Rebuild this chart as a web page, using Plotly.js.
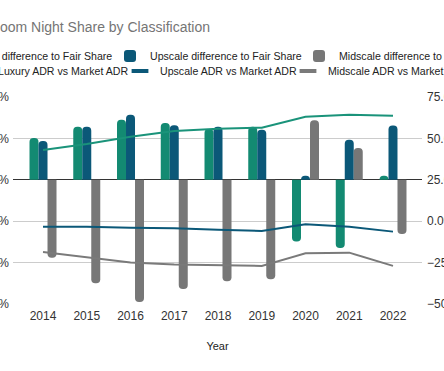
<!DOCTYPE html>
<html>
<head>
<meta charset="utf-8">
<script src="https://cdn.plot.ly/plotly-3.0.1.min.js"></script>
<style>
  html, body { margin: 0; padding: 0; width: 444px; height: 371px; overflow: hidden; background: #fff; }
  #chart { position: absolute; left: -100px; top: 0; width: 644px; height: 371px; }
</style>
</head>
<body>
<div id="chart"></div>
<script>
const years = ['2014', '2015', '2016', '2017', '2018', '2019', '2020', '2021', '2022'];
const luxuryShare   = [10.1, 12.8, 14.5, 13.7, 12.3, 12.8, -14.9, -16.5, 1.0];
const upscaleShare  = [9.4, 12.8, 15.7, 13.2, 12.8, 12.1, 1.0, 9.7, 13.1];
const midscaleShare = [-18.8, -25.0, -29.5, -26.4, -24.5, -24.0, 14.4, 7.7, -13.1];
const luxuryADR   = [43.0, 46.6, 51.0, 54.5, 55.9, 56.5, 63.1, 64.3, 63.7];
const upscaleADR  = [-3.4, -3.4, -4.0, -4.2, -5.2, -5.9, -1.8, -3.4, -6.3];
const midscaleADR = [-18.6, -22.0, -25.0, -26.2, -26.8, -27.0, -19.4, -19.0, -27.0];
const barNames  = ['Luxury difference to Fair Share', 'Upscale difference to Fair Share', 'Midscale difference to Fair Share'];
const lineNames = ['Luxury ADR vs Market ADR', 'Upscale ADR vs Market ADR', 'Midscale ADR vs Market ADR'];

const cLux = '#138a72', cUp = '#0b5878', cMid = '#777777';
const cLuxLine = '#1a937a', cMidLine = '#7a7a7a';
const FONT = 'Liberation Sans, Arial, sans-serif';
const W = 644, H = 371;

const barSeries = [luxuryShare, upscaleShare, midscaleShare];
const barColors = [cLux, cUp, cMid];
const lineSeries = [luxuryADR, upscaleADR, midscaleADR];
const lineColors = [cLuxLine, cUp, cMidLine];

const traces = [];
barSeries.forEach((vals, i) => {
  traces.push({type: 'bar', name: barNames[i], x: years, y: vals,
    marker: {color: barColors[i]}, legend: i === 0 ? 'legend' : 'legend' + (i + 1)});
});
lineSeries.forEach((vals, i) => {
  traces.push({type: 'scatter', mode: 'lines', name: lineNames[i], x: years, y: vals, yaxis: 'y2',
    line: {color: lineColors[i], width: 2}, showlegend: false});
  // legend-only entry showing a short thick dash, like the original legend key
  traces.push({type: 'scatter', mode: 'markers', name: lineNames[i], x: [null], y: [null], yaxis: 'y2',
    marker: {symbol: 'line-ew', size: 12, color: lineColors[i], line: {color: lineColors[i], width: 4}},
    legend: 'legend' + (i + 4), showlegend: true});
});

function leg(leftPx, midY) {
  return {
    orientation: 'h', xref: 'container', x: leftPx / W, xanchor: 'left',
    yref: 'container', y: 1 - midY / H, yanchor: 'middle',
    font: {family: FONT, size: 10.6, color: '#222'}, bgcolor: 'rgba(0,0,0,0)', borderwidth: 0
  };
}

const layout = {
  width: W, height: H,
  showlegend: true,
  margin: {l: 113, r: 122, t: 97, b: 67, pad: 0},
  paper_bgcolor: '#fff', plot_bgcolor: '#fff',
  font: {family: FONT, size: 12, color: '#444'},
  hovermode: false,
  barmode: 'group', bargap: 0.383, bargroupgap: 0,
  barcornerradius: 4,
  title: {
    text: 'Room Night Share by Classification',
    font: {family: FONT, size: 14, color: '#757575'},
    xref: 'container', x: 310 / W, xanchor: 'right',
    yref: 'container', y: 1 - 27 / H, yanchor: 'middle'
  },
  legend: leg(27, 56),
  legend2: leg(210, 56),
  legend3: leg(399, 56),
  legend4: leg(58, 71),
  legend5: leg(220, 71),
  legend6: leg(388, 71),
  xaxis: {
    type: 'category', range: [-0.686, 8.663],
    showgrid: false, showline: false, zeroline: false, ticks: '',
    ticklabelstandoff: 3,
    tickfont: {family: FONT, size: 12, color: '#333'},
    title: {text: 'Year', font: {family: FONT, size: 11, color: '#222'}, standoff: 20}
  },
  yaxis: {
    range: [-30, 20], dtick: 10, tick0: 0, ticksuffix: '%',
    showgrid: true, gridcolor: '#cccccc', gridwidth: 1,
    zeroline: true, zerolinecolor: '#333333', zerolinewidth: 1,
    showline: false, ticks: '', ticklabelstandoff: 3,
    tickfont: {family: FONT, size: 12, color: '#333'}
  },
  yaxis2: {
    overlaying: 'y', side: 'right',
    range: [-50, 75], dtick: 25, tick0: 0, tickformat: '.1f', ticksuffix: '%',
    showgrid: false, zeroline: false, showline: false, ticks: '', ticklabelstandoff: 4,
    tickfont: {family: FONT, size: 12, color: '#333'}
  }
};

Plotly.newPlot('chart', traces, layout, {staticPlot: true, displayModeBar: false});
</script>
</body>
</html>
